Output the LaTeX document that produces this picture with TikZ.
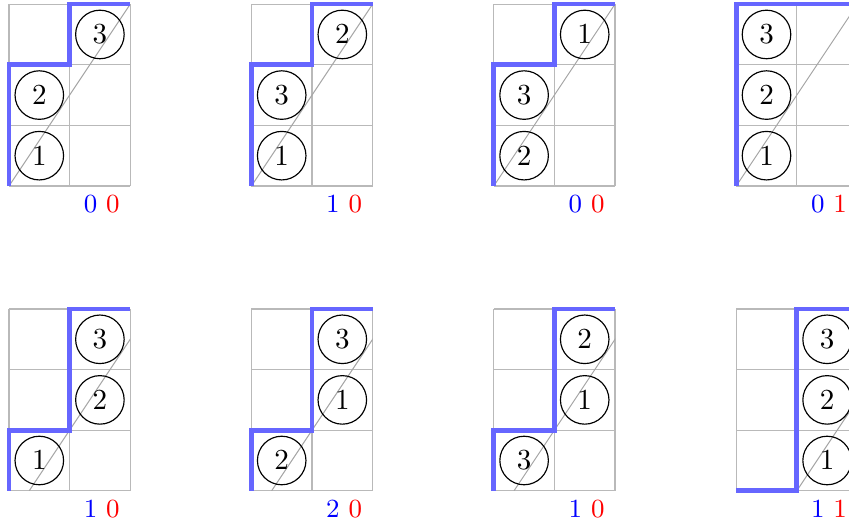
\documentclass[tikz,border=0pt]{standalone}
\usetikzlibrary{calc}
\tikzset{
  gridline/.style={draw=gray!55, line width=0.4pt},
  diag/.style={draw=gray!70, line width=0.35pt},
  dyck/.style={draw=blue!60, line width=1.6pt},
  car/.style={draw, circle, minimum size=16.7pt, inner sep=0pt, line width=0.4pt},
  lab/.style={font=\small, inner sep=0pt}
}
\newcommand{\drawpanel}[8]{%
  \begin{scope}[shift={(#1,#2)}]
    \foreach \gx in {0,1,2} \draw[gridline] (\gx,0) -- (\gx,3);
    \foreach \gy in {0,1,2,3} \draw[gridline] (0,\gy) -- (2,\gy);
    \begin{scope}
      \clip (0,0) rectangle (2,3);
      \coordinate (d#8a) at (#4,0);
      \coordinate (d#8b) at ($(#4,0)+(2,3)$);
      \draw[diag] (d#8a) -- (d#8b);
    \end{scope}
    \draw[dyck] #3;
    \foreach \c/\r/\n in {#5} \node[car] (p#8-\n) at (\c-0.5,\r-0.5) {$\n$};
    \node[lab] (l#8) at (1.53,-0.30) {$\color{blue}#6$ $\color{red}#7$};
  \end{scope}}
\begin{document}
\begin{tikzpicture}[x=20.85pt, y=20.85pt]
  \useasboundingbox (-0.1485,-5.627) rectangle (13.861,3.069);
  % top row
  \drawpanel{0}{0}{(0,0) -- (0,2) -- (1,2) -- (1,3) -- (2,3)}{0}{1/1/1,1/2/2,2/3/3}{0}{0}{1}
  \drawpanel{4}{0}{(0,0) -- (0,2) -- (1,2) -- (1,3) -- (2,3)}{0}{1/1/1,1/2/3,2/3/2}{1}{0}{2}
  \drawpanel{8}{0}{(0,0) -- (0,2) -- (1,2) -- (1,3) -- (2,3)}{0}{1/1/2,1/2/3,2/3/1}{0}{0}{3}
  \drawpanel{12}{0}{(0,0) -- (0,3) -- (2,3)}{0}{1/1/1,1/2/2,1/3/3}{0}{1}{4}
  % bottom row
  \drawpanel{0}{-5.03}{(0,0) -- (0,1) -- (1,1) -- (1,3) -- (2,3)}{0.3333}{1/1/1,2/2/2,2/3/3}{1}{0}{5}
  \drawpanel{4}{-5.03}{(0,0) -- (0,1) -- (1,1) -- (1,3) -- (2,3)}{0.3333}{1/1/2,2/2/1,2/3/3}{2}{0}{6}
  \drawpanel{8}{-5.03}{(0,0) -- (0,1) -- (1,1) -- (1,3) -- (2,3)}{0.3333}{1/1/3,2/2/1,2/3/2}{1}{0}{7}
  \drawpanel{12}{-5.03}{(0,0) -- (1,0) -- (1,3) -- (2,3)}{1}{2/1/1,2/2/2,2/3/3}{1}{1}{8}
\end{tikzpicture}
\end{document}
